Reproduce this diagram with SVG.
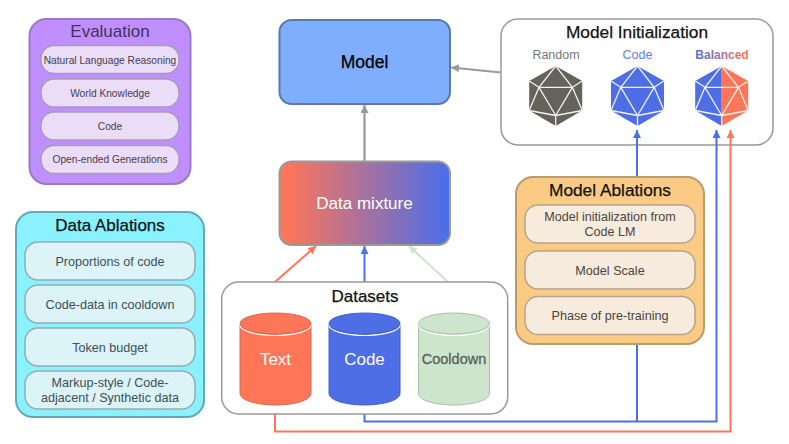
<svg xmlns="http://www.w3.org/2000/svg" xmlns:xlink="http://www.w3.org/1999/xlink" width="789" height="444" viewBox="0 0 789 444">
<style>
text{font-family:"Liberation Sans",Arial,sans-serif;text-anchor:middle}
.t{font-size:17px;fill:#111;stroke:#111;stroke-width:.25}
.ti{font-size:10.2px;fill:#47404f}
.td{font-size:12.6px;fill:#3f4f55}
.tm{font-size:12.6px;fill:#4a453f}
.p{fill:#ebdcf8;stroke:#a99bb8;stroke-width:1.5}
.c{fill:#dcf3f7;stroke:#94adb2;stroke-width:1.5}
.o{fill:#f7ebdd;stroke:#b3a592;stroke-width:1.5}
.conn{fill:none;stroke-width:2}
.ico{fill:none;stroke:#f2f2ee;stroke-width:1.3;stroke-linejoin:round}
.cap{stroke:#fff;stroke-width:1.2}
</style>
<defs>
<linearGradient id="mix" x1="0" x2="1" y1="0" y2="0"><stop offset="0.03" stop-color="#ff7557"/><stop offset="0.97" stop-color="#4e6ee6"/></linearGradient>
<linearGradient id="bal" x1="0" x2="1" y1="0" y2="0"><stop offset="0" stop-color="#4e6ee6"/><stop offset="1" stop-color="#ff7557"/></linearGradient>
<marker id="ag" markerUnits="userSpaceOnUse" markerWidth="10" markerHeight="10" refX="8" refY="4" orient="auto"><path d="M0 0L8 4L0 8z" fill="#999"/></marker>
<marker id="ab" markerUnits="userSpaceOnUse" markerWidth="10" markerHeight="10" refX="8" refY="4" orient="auto"><path d="M0 0L8 4L0 8z" fill="#4e6ee6"/></marker>
<marker id="ar" markerUnits="userSpaceOnUse" markerWidth="10" markerHeight="10" refX="8" refY="4" orient="auto"><path d="M0 0L8 4L0 8z" fill="#ff7557"/></marker>
<marker id="al" markerUnits="userSpaceOnUse" markerWidth="10" markerHeight="10" refX="8" refY="4" orient="auto"><path d="M0 0L8 4L0 8z" fill="#cde5cc"/></marker>
<path id="mesh" class="ico" d="M0-30L-16.7-8.7L16.7-8.7ZM-16.7-8.7L0 19.500L16.7-8.7M-26.500-15L-16.7-8.7M26.500-15L16.7-8.7M-26.500 14.500L-16.7-8.7M26.500 14.500L16.7-8.7M-26.500 14.500L0 19.500L26.500 14.500M0 19.500L0 30"/>
</defs>
<rect width="789" height="444" fill="#fff"/>
<g id="model-initialization">
<rect x="501" y="19" width="272" height="126" rx="17" fill="#fff" stroke="#999" stroke-width="1.500"/>
<text class="t" x="637" y="37.500" style="font-size:17.300px">Model Initialization</text>
<text x="556" y="58.500" style="font-size:12.500px;fill:#777">Random</text>
<text x="637.500" y="58.500" style="font-size:12.500px;fill:#5f7ee8">Code</text>
<text x="722" y="58.500" style="font-size:12px;fill:url(#bal);font-weight:bold">Balanced</text>
<path d="M555.700 66L529.200 81L529.200 110.500L555.700 126L582.200 110.500L582.200 81Z" fill="#63635c"/>
<use xlink:href="#mesh" href="#mesh" x="555.700" y="96"/>
<path d="M637.500 66L611 81L611 110.500L637.500 126L664 110.500L664 81Z" fill="#4e6ee6"/>
<use xlink:href="#mesh" href="#mesh" x="637.500" y="96"/>
<path d="M721.700 66L695.200 81L695.200 110.500L721.700 126Z" fill="#4e6ee6"/>
<path d="M721.700 66L748.200 81L748.200 110.500L721.700 126Z" fill="#ff7557"/>
<use xlink:href="#mesh" href="#mesh" x="721.700" y="96"/>
</g>
<g id="connectors" class="conn">
<path d="M275 282L316 246" stroke="#ff7557" marker-end="url(#ar)"/>
<path d="M364.500 282V246" stroke="#4e6ee6" marker-end="url(#ab)"/>
<path d="M448 282L409 246" stroke="#cde5cc" marker-end="url(#al)"/>
<path d="M364.500 161V105" stroke="#999" stroke-width="2.200" marker-end="url(#ag)"/>
<path d="M501 72.500L451 67.500" stroke="#999" stroke-width="2.200" marker-end="url(#ag)"/>
<path d="M364.500 405V421.500H716.500V130" stroke="#4e6ee6" marker-end="url(#ab)"/>
<path d="M637 421.500V130" stroke="#4e6ee6" marker-end="url(#ab)"/>
<path d="M275 405V431.500H730.500V130" stroke="#ff7557" marker-end="url(#ar)"/>
</g>
<g id="evaluation">
<rect x="29.500" y="19" width="161" height="165" rx="17" fill="#c08fff" stroke="#9b79c4" stroke-width="2"/>
<text class="t" x="110" y="37" style="fill:#40335a;stroke:none;font-size:17px">Evaluation</text>
<rect class="p" x="41" y="45.500" width="138" height="28" rx="13"/><text class="ti" x="110" y="63.500">Natural Language Reasoning</text>
<rect class="p" x="41" y="79" width="138" height="28" rx="13"/><text class="ti" x="110" y="96.500">World Knowledge</text>
<rect class="p" x="41" y="112" width="138" height="28" rx="13"/><text class="ti" x="110" y="130">Code</text>
<rect class="p" x="41" y="145.500" width="138" height="28" rx="13"/><text class="ti" x="110" y="163">Open-ended Generations</text>
</g>
<g id="data-ablations">
<rect x="16" y="212" width="188" height="205" rx="17" fill="#8af1ff" stroke="#64a9b5" stroke-width="2"/>
<text class="t" x="110" y="231">Data Ablations</text>
<rect class="c" x="25" y="242" width="170" height="38" rx="13"/><text class="td" x="110" y="266">Proportions of code</text>
<rect class="c" x="25" y="285" width="170" height="38" rx="13"/><text class="td" x="110" y="309">Code-data in cooldown</text>
<rect class="c" x="25" y="328" width="170" height="38" rx="13"/><text class="td" x="110" y="351.500">Token budget</text>
<rect class="c" x="25" y="371" width="170" height="38" rx="13"/><text class="td" x="110" y="387">Markup-style / Code-</text><text class="td" x="110" y="402">adjacent / Synthetic data</text>
</g>
<g id="model">
<rect x="279.500" y="20" width="170.500" height="84" rx="12" fill="#80aeff" stroke="#5878ae" stroke-width="2"/>
<text x="364.500" y="68" style="font-size:17.500px;fill:#000;stroke:#000;stroke-width:.25">Model</text>
</g>
<g id="data-mixture">
<rect x="279.500" y="161.500" width="170.500" height="83.500" rx="12" fill="url(#mix)" stroke="#999" stroke-width="2"/>
<text x="364.500" y="209" style="font-size:17px;fill:#fff">Data mixture</text>
</g>
<g id="model-ablations">
<rect x="516" y="177" width="188" height="167" rx="17" fill="#fbcb85" stroke="#bb9c6b" stroke-width="2"/>
<text class="t" x="610" y="196" style="font-size:17.300px">Model Ablations</text>
<rect class="o" x="525" y="205" width="170" height="38" rx="13"/><text class="tm" x="610" y="221">Model initialization from</text><text class="tm" x="610" y="236">Code LM</text>
<rect class="o" x="525" y="251" width="170" height="38" rx="13"/><text class="tm" x="610" y="274.500">Model Scale</text>
<rect class="o" x="525" y="296.500" width="170" height="38" rx="13"/><text class="tm" x="610" y="320">Phase of pre-training</text>
</g>
<g id="datasets">
<rect x="221.700" y="282" width="286" height="132" rx="17" fill="#fff" stroke="#999" stroke-width="1.500"/>
<text class="t" x="365" y="301.500">Datasets</text>
</g>
<g id="text-dataset">
<path d="M240 325V393.500C240 400 256 405 275.500 405S311 400 311 393.500V325Z" fill="#ff7557" stroke="#d86a52"/>
<ellipse cx="275.500" cy="325" rx="35.500" ry="10.500" fill="none" class="cap"/>
<ellipse cx="275.500" cy="323.500" rx="35.500" ry="10.500" fill="#ff7557" stroke="#d86a52"/>
<text x="275.500" y="365" style="font-size:17px;fill:#fff">Text</text>
</g>
<g id="code-dataset">
<path d="M329 325V393.500C329 400 345 405 364.500 405S400 400 400 393.500V325Z" fill="#4e6ee6" stroke="#4560c4"/>
<ellipse cx="364.500" cy="325" rx="35.500" ry="10.500" fill="none" class="cap"/>
<ellipse cx="364.500" cy="323.500" rx="35.500" ry="10.500" fill="#4e6ee6" stroke="#4560c4"/>
<text x="364.500" y="365" style="font-size:17px;fill:#fff">Code</text>
</g>
<g id="cooldown-dataset">
<path d="M418.500 325V393.500C418.500 400 434.500 405 454 405S489.500 400 489.500 393.500V325Z" fill="#cde5cc" stroke="#a9bfa8"/>
<ellipse cx="454" cy="325" rx="35.500" ry="10.500" fill="none" class="cap"/>
<ellipse cx="454" cy="323.500" rx="35.500" ry="10.500" fill="#cde5cc" stroke="#a9bfa8"/>
<text x="454" y="364" style="font-size:14.500px;fill:#5a5f5a;stroke:#5a5f5a;stroke-width:.3">Cooldown</text>
</g>
</svg>
